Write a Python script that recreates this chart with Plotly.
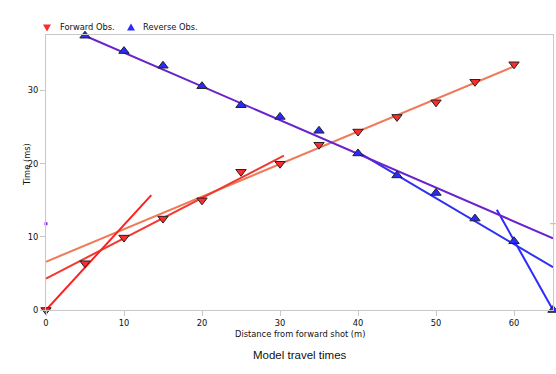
import plotly.graph_objects as go

# Observations
fwd_x = [0, 5, 10, 15, 20, 25, 30, 35, 40, 45, 50, 55, 60]
fwd_t = [0.0, 6.4, 9.9, 12.5, 15.0, 18.9, 20.0, 22.6, 24.4, 26.4, 28.4, 31.2, 33.6]
rev_x = [5, 10, 15, 20, 25, 30, 35, 40, 45, 50, 55, 60, 65]
rev_t = [37.5, 35.4, 33.4, 30.6, 28.0, 26.4, 24.5, 21.4, 18.4, 16.0, 12.5, 9.4, 0.0]

# Model travel-time segments (x endpoints, t endpoints)
fwd_direct_x = [0, 13.5]
fwd_direct_t = [0.0, 15.7]
fwd_ref1_x = [0, 30.5]
fwd_ref1_t = [4.3, 21.1]
fwd_ref2_x = [0, 60]
fwd_ref2_t = [6.6, 33.3]
rev_ref2_x = [5, 65]
rev_ref2_t = [37.5, 9.8]
rev_ref1_x = [40, 65]
rev_ref1_t = [21.6, 5.85]
rev_direct_x = [57.8, 65]
rev_direct_t = [13.7, 0.0]
side_x = [0, 65]
side_t = [11.8, 11.8]

legend_names = ["Forward Obs.", "Reverse Obs."]
legend_colors = ["#ff2a2a", "#2a2aff"]

fig = go.Figure()

def seg(x, y, color, w=2):
    fig.add_trace(go.Scatter(x=x, y=y, mode="lines", line=dict(color=color, width=w),
                             showlegend=False, hoverinfo="skip"))

seg(fwd_ref2_x, fwd_ref2_t, "#ee7a5a")
seg(fwd_ref1_x, fwd_ref1_t, "#f03a30")
seg(fwd_direct_x, fwd_direct_t, "#ff2020")
seg(rev_ref1_x, rev_ref1_t, "#3030f0")
seg(rev_direct_x, rev_direct_t, "#2a2aff")
seg(rev_ref2_x, rev_ref2_t, "#6a22cc")

fig.add_trace(go.Scatter(x=[side_x[0]], y=[side_t[0]], mode="markers",
                         marker=dict(color="#8a2be2", size=3, symbol="square"),
                         showlegend=False, hoverinfo="skip", cliponaxis=False))
fig.add_trace(go.Scatter(x=[side_x[1]], y=[side_t[1]], mode="markers",
                         marker=dict(color="#f0a060", size=4, symbol="line-ew-open",
                                     line=dict(color="#f0a060", width=1)),
                         showlegend=False, hoverinfo="skip", cliponaxis=False))

fig.add_trace(go.Scatter(x=fwd_x, y=fwd_t, mode="markers", name=legend_names[0],
                         showlegend=False, cliponaxis=False,
                         marker=dict(symbol="triangle-down", size=9, color=legend_colors[0],
                                     line=dict(color="#222222", width=1))))
fig.add_trace(go.Scatter(x=rev_x, y=rev_t, mode="markers", name=legend_names[1],
                         showlegend=False, cliponaxis=False,
                         marker=dict(symbol="triangle-up", size=9, color=legend_colors[1],
                                     line=dict(color="#222222", width=1))))

W, H = 556, 374
L, R, T, B = 46, 3, 35, 64
pw, ph = W - L - R, H - T - B

def px_x(p):
    return (p - L) / pw

def px_y(p):
    return (H - B - p) / ph

# Hand-drawn legend (paper coordinates converted from pixel layout)
shapes = []
annotations = []
leg_sym_x = [47, 131]
leg_txt_x = [58, 141]
leg_y = 27.5
tri_paths = ["M -4,3 L 4,3 L 0,-4 Z", "M -4,-3 L 4,-3 L 0,4 Z"]
for i in range(2):
    shapes.append(dict(type="path", xref="paper", yref="paper",
                       xsizemode="pixel", ysizemode="pixel",
                       xanchor=px_x(leg_sym_x[i]), yanchor=px_y(leg_y),
                       path=tri_paths[i], fillcolor=legend_colors[i],
                       line=dict(width=0)))
    annotations.append(dict(text=legend_names[i], xref="paper", yref="paper",
                            x=px_x(leg_txt_x[i]), y=px_y(27), xanchor="left",
                            yanchor="middle", showarrow=False, font=dict(size=8.3)))

font = "DejaVu Sans"
annotations += [
    dict(text="Distance from forward shot (m)", xref="paper", yref="paper",
         x=0.5, y=px_y(334), xanchor="center", yanchor="middle", showarrow=False,
         font=dict(size=8.3)),
    dict(text="Time (ms)", xref="paper", yref="paper", x=px_x(27), y=px_y(165),
         textangle=-90, xanchor="center", yanchor="middle", showarrow=False,
         font=dict(size=8.3)),
    dict(text="Model travel times", xref="paper", yref="paper", x=0.5, y=px_y(355),
         xanchor="center", yanchor="middle", showarrow=False,
         font=dict(size=11.5, family="Liberation Sans")),
]

fig.update_layout(
    width=W, height=H,
    margin=dict(l=L, r=R, t=T, b=B, autoexpand=False),
    paper_bgcolor="white", plot_bgcolor="white",
    font=dict(family=font, size=8.3, color="#111111"),
    showlegend=False,
    xaxis=dict(range=[0, 65], tickvals=[0, 10, 20, 30, 40, 50, 60], automargin=False,
               showgrid=False, zeroline=False, showline=True, linecolor="#c8c8c8",
               linewidth=1, mirror=True, ticks="outside", ticklen=5,
               tickcolor="#c8c8c8", tickfont=dict(size=8.3)),
    yaxis=dict(range=[0, 37.6], tickvals=[0, 10, 20, 30], automargin=False,
               showgrid=False, zeroline=False, showline=True, linecolor="#c8c8c8",
               linewidth=1, mirror=True, ticks="outside", ticklen=5,
               tickcolor="#c8c8c8", tickfont=dict(size=8.3)),
    shapes=shapes,
    annotations=annotations,
)

fig.write_html("out.html", config={"displayModeBar": False},
               post_script="document.body.style.margin='0';document.body.style.overflow='hidden';")
